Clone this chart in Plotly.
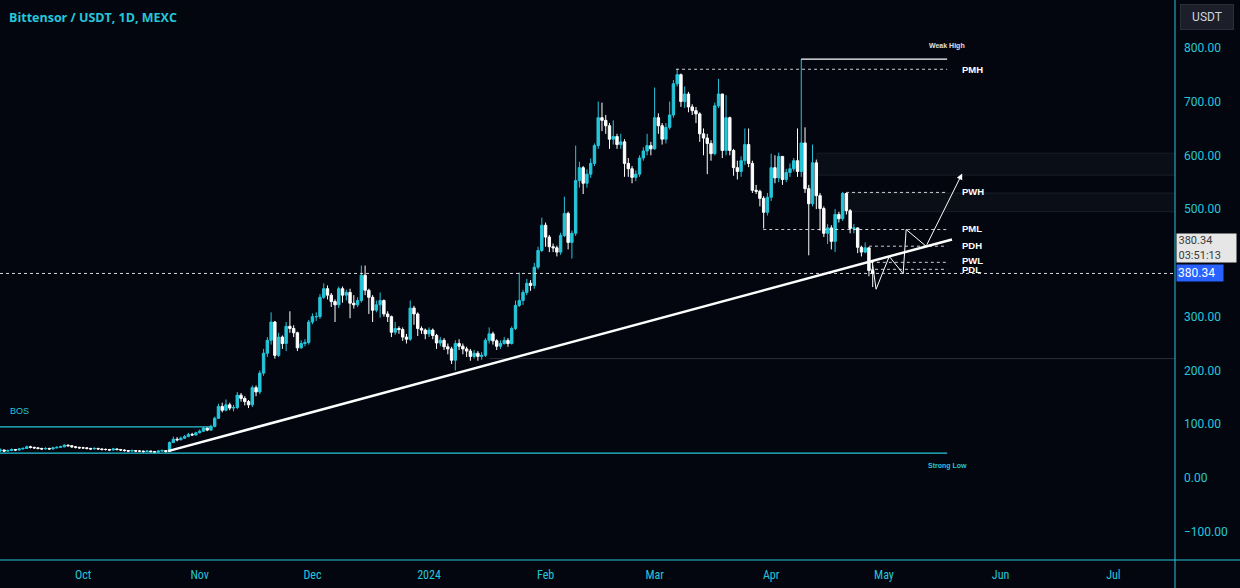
import pandas as pd
import numpy as np
import plotly.graph_objects as go

# ---------------- DATA ----------------
start_date = "2023-09-09"
closes = [
    52, 50, 51, 53, 52, 54, 55, 58, 57, 56,
    55, 54, 55, 54, 56, 57, 58, 61, 60, 58,
    57, 56, 56, 55, 54, 55, 54, 53, 53, 52,
    54, 53, 52, 51, 50, 51, 50, 50, 49, 50,
    49, 48, 50, 51, 49, 66, 72, 71, 74, 77,
    81, 80, 84, 87, 93, 89, 96, 111, 133, 126,
    136, 130, 131, 154, 148, 142, 136, 168, 160, 195,
    232, 256, 290, 228, 262, 250, 282, 278, 270, 242,
    250, 252, 290, 300, 300, 336, 352, 340, 328, 322,
    352, 340, 345, 325, 322, 330, 377, 349, 336, 312,
    322, 330, 305, 300, 271, 278, 276, 262, 258, 316,
    305, 278, 275, 268, 275, 265, 251, 256, 244, 240,
    219, 250, 245, 240, 236, 226, 232, 226, 228, 256,
    268, 255, 245, 250, 256, 250, 278, 321, 330, 345,
    362, 358, 392, 423, 470, 448, 430, 428, 420, 451,
    492, 438, 455, 553, 577, 548, 565, 585, 618, 670,
    665, 655, 630, 635, 620, 625, 585, 575, 559, 565,
    595, 608, 618, 612, 670, 655, 630, 652, 675, 733,
    750, 700, 714, 690, 683, 677, 640, 632, 622, 603,
    692, 714, 609, 670, 609, 577, 570, 590, 620, 585,
    535, 533, 520, 494, 522, 577, 558, 598, 555, 568,
    575, 590, 570, 623, 538, 510, 586, 525, 501, 455,
    465, 440, 490, 482, 529, 497, 464, 465, 429, 420,
    428, 386, 380.34,
]
highs = [
    55, 53, 53, 55, 54, 56, 57, 60, 60, 58,
    57, 56, 57, 56, 58, 59, 60, 63, 62, 61,
    59, 58, 58, 57, 56, 57, 56, 55, 55, 54,
    56, 55, 54, 53, 52, 53, 52, 52, 51, 52,
    51, 50, 52, 53, 52, 68, 77, 76, 77, 80,
    84, 84, 86, 90, 95, 94, 99, 114, 138, 140,
    146, 140, 136, 160, 158, 152, 145, 172, 172, 200,
    240, 262, 308, 292, 270, 265, 290, 310, 284, 272,
    256, 258, 294, 306, 308, 342, 362, 358, 344, 332,
    356, 356, 350, 352, 340, 336, 395, 395, 352, 340,
    330, 345, 332, 310, 302, 290, 282, 280, 268, 330,
    320, 308, 282, 278, 280, 278, 268, 262, 260, 250,
    244, 256, 258, 250, 244, 240, 238, 236, 234, 260,
    280, 272, 258, 256, 262, 260, 282, 330, 382, 350,
    370, 368, 400, 430, 484, 475, 452, 436, 432, 456,
    523, 495, 460, 618, 588, 580, 574, 594, 622, 700,
    698, 675, 660, 665, 640, 640, 630, 595, 580, 572,
    600, 615, 640, 625, 726, 678, 660, 660, 700, 740,
    761, 752, 728, 718, 695, 690, 680, 650, 640, 628,
    698, 742, 714, 712, 672, 612, 590, 598, 650, 650,
    590, 545, 536, 524, 530, 603, 600, 605, 580, 575,
    585, 595, 650, 779, 652, 545, 620, 592, 530, 505,
    472, 470, 500, 495, 532, 525, 500, 472, 466, 432,
    438, 428, 395,
]
lows = [
    48, 48, 49, 50, 50, 51, 53, 54, 55, 54,
    53, 52, 53, 52, 53, 55, 56, 57, 58, 56,
    55, 54, 54, 53, 52, 53, 52, 51, 51, 50,
    51, 51, 50, 49, 48, 49, 48, 48, 47, 48,
    47, 46, 47, 49, 47, 48, 65, 68, 70, 73,
    76, 78, 79, 83, 86, 87, 88, 94, 110, 122,
    124, 126, 124, 128, 142, 135, 130, 132, 152, 156,
    190, 225, 248, 222, 225, 240, 236, 270, 262, 236,
    240, 245, 248, 286, 292, 296, 333, 332, 318, 290,
    316, 326, 330, 297, 315, 318, 326, 340, 305, 290,
    308, 298, 300, 290, 262, 266, 268, 255, 250, 255,
    285, 264, 268, 258, 262, 258, 240, 245, 238, 230,
    212, 200, 238, 230, 225, 218, 222, 218, 220, 225,
    250, 248, 238, 240, 248, 244, 248, 275, 318, 322,
    340, 348, 352, 388, 420, 430, 420, 420, 412, 415,
    448, 425, 408, 450, 540, 528, 540, 558, 580, 612,
    645, 640, 612, 620, 612, 612, 560, 560, 548, 552,
    560, 590, 600, 600, 610, 640, 620, 622, 648, 670,
    728, 690, 688, 680, 675, 660, 625, 600, 565, 590,
    600, 688, 595, 600, 600, 562, 555, 560, 582, 578,
    530, 528, 505, 464, 488, 515, 548, 550, 545, 550,
    560, 570, 560, 560, 530, 414, 505, 500, 460, 448,
    435, 425, 420, 475, 478, 490, 455, 455, 418, 412,
    418, 375, 355,
]
first_open = 51
gap_opens = {45: 49}  # day index -> open where the candle gapped

month_ticks = ["2023-10-01", "2023-11-01", "2023-12-01", "2024-01-01", "2024-02-01",
               "2024-03-01", "2024-04-01", "2024-05-01", "2024-06-01", "2024-07-01"]
month_labels = ["Oct", "Nov", "Dec", "2024", "Feb", "Mar", "Apr", "May", "Jun", "Jul"]
# 400 is covered by the last-price labels in the reference
price_ticks = [800, 700, 600, 500, 300, 200, 100, 0, -100]

last_price = 380.34
countdown = "03:51:13"

# drawings (day index from start_date, price)
trend_idx = [44.6, 253.1]
trend_val = [50, 443.6]
proj_idx = [231.8, 232.9, 236.4, 240.1, 240.9, 246.2]
proj_val = [405, 351, 412, 380, 462, 431]
arrow_end = (255.8, 566)

level_names = ["PMH", "PWH", "PML", "PDH", "PWL", "PDL"]
level_vals = [760, 531, 462, 431, 401, 388]
level_starts = [179.7, 224.9, 202.9, 231.0, 231.5, 231.0]
level_label_vals = [759, 533, 463, 432, 404, 387]
levels_end = 251.8

weak_high = 779
weak_high_start = 213
strong_low = 46.4
bos_level = 95
bos_end = 56.3
zones = [(217.2, 563, 604), (225.2, 495, 530)]
gray_level = 222
gray_start = 130
x_range = [-0.1, 312.4]
y_range = [-152.5, 888.8]

# ---------------- BUILD ----------------
base = pd.Timestamp(start_date)
def day(d):
    return base + pd.Timedelta(days=float(d))

n = len(closes)
dates = [day(i) for i in range(n)]
opens = [first_open] + closes[:-1]
for k, v in gap_opens.items():
    opens[k] = v
highs_f = [max(h, o, c) for h, o, c in zip(highs, opens, closes)]
lows_f = [min(l, o, c) for l, o, c in zip(lows, opens, closes)]

BG = "#03060f"
CYAN = "#26c6da"
WHITE = "#ffffff"

fig = go.Figure()
fig.add_trace(go.Candlestick(
    x=dates, open=opens, high=highs_f, low=lows_f, close=closes,
    increasing=dict(line=dict(color=CYAN, width=1), fillcolor=CYAN),
    decreasing=dict(line=dict(color=WHITE, width=1), fillcolor=WHITE),
    whiskerwidth=0, showlegend=False, hoverinfo="skip",
))

fig.add_trace(go.Scatter(x=[day(d) for d in trend_idx], y=trend_val, mode="lines",
                         line=dict(color=WHITE, width=2.5), showlegend=False, hoverinfo="skip"))
fig.add_trace(go.Scatter(x=[day(d) for d in proj_idx], y=proj_val, mode="lines",
                         line=dict(color=WHITE, width=1), showlegend=False, hoverinfo="skip"))

shapes = []
for (s, lo, hi) in zones:
    shapes.append(dict(type="rect", xref="x", yref="y", x0=day(s), x1=day(x_range[1] + 5),
                       y0=lo, y1=hi, fillcolor="rgba(120,123,134,0.07)",
                       line=dict(color="rgba(120,123,134,0.18)", width=1), layer="below"))
shapes.append(dict(type="line", xref="x", yref="y", x0=day(gray_start), x1=day(x_range[1] + 5),
                   y0=gray_level, y1=gray_level, line=dict(color="rgba(120,123,134,0.35)", width=1),
                   layer="below"))
shapes.append(dict(type="line", xref="x", yref="y", x0=day(x_range[0]), x1=day(x_range[1] + 5),
                   y0=last_price, y1=last_price, line=dict(color="rgba(255,255,255,0.85)", width=1, dash="dot")))
shapes.append(dict(type="line", xref="x", yref="y", x0=day(x_range[0]), x1=day(bos_end),
                   y0=bos_level, y1=bos_level, line=dict(color=CYAN, width=1.2)))
shapes.append(dict(type="line", xref="x", yref="y", x0=day(x_range[0]), x1=day(levels_end),
                   y0=strong_low, y1=strong_low, line=dict(color=CYAN, width=1.2)))
shapes.append(dict(type="line", xref="x", yref="y", x0=day(weak_high_start), x1=day(levels_end),
                   y0=weak_high, y1=weak_high, line=dict(color=WHITE, width=1.2)))
for v, s in zip(level_vals, level_starts):
    shapes.append(dict(type="line", xref="x", yref="y", x0=day(s), x1=day(levels_end),
                       y0=v, y1=v, line=dict(color="rgba(255,255,255,0.8)", width=1, dash="dot")))
shapes.append(dict(type="line", xref="paper", yref="paper", x0=1.0, x1=1.0, y0=-0.06, y1=1.0,
                   line=dict(color=CYAN, width=1)))
shapes.append(dict(type="line", xref="paper", yref="paper", x0=0, x1=1240 / 1175, y0=0, y1=0,
                   line=dict(color=CYAN, width=1)))

annotations = []
annotations.append(dict(xref="paper", yref="paper", x=7 / 1175, y=1 - 17 / 560, xanchor="left",
                        yanchor="middle", text="Bittensor / USDT, 1D, MEXC", showarrow=False,
                        font=dict(family="Open Sans", size=12.5, color=CYAN, weight="bold")))
for name, v in zip(level_names, level_label_vals):
    annotations.append(dict(x=day(255.2), y=v, xanchor="left", yanchor="middle", text=name,
                            showarrow=False, font=dict(family="Liberation Sans", size=9.5,
                                                       color=WHITE, weight="bold")))
annotations.append(dict(x=day(251.8), y=803, text="Weak High", showarrow=False,
                        font=dict(family="Liberation Sans", size=7, color="#e0e0e0", weight="bold")))
annotations.append(dict(x=day(251.8), y=22, text="Strong Low", showarrow=False,
                        font=dict(family="Liberation Sans", size=7, color=CYAN, weight="bold")))
annotations.append(dict(x=day(5), y=124, text="BOS", showarrow=False,
                        font=dict(family="Liberation Sans", size=9, color=CYAN)))
annotations.append(dict(x=day(arrow_end[0]), y=arrow_end[1], ax=day(proj_idx[-1]), ay=proj_val[-1],
                        xref="x", yref="y", axref="x", ayref="y", showarrow=True,
                        arrowhead=2, arrowsize=1.2, arrowwidth=1, arrowcolor=WHITE, text=""))
annotations.append(dict(xref="paper", yref="paper", x=1207 / 1175, y=1 - 17 / 560, text="USDT",
                        xanchor="center", yanchor="middle",
                        showarrow=False, bgcolor="#1c1f29", bordercolor="#2a2e39", borderwidth=1,
                        borderpad=3, width=46, height=18,
                        font=dict(family="Roboto", size=12, color="#d1d4dc")))
annotations.append(dict(xref="paper", yref="y", x=1176 / 1175, y=428, xanchor="left", yanchor="middle",
                        text=f"{last_price:.2f}<br>{countdown}", showarrow=False, align="left",
                        bgcolor="#e6e6e6", width=56, height=25, borderpad=1.5,
                        font=dict(family="Roboto", size=11, color="#3a3a3a")))
annotations.append(dict(xref="paper", yref="y", x=1176 / 1175, y=last_price, xanchor="left",
                        yanchor="middle",
                        text=f"{last_price:.2f}", showarrow=False, align="left",
                        bgcolor="#2962ff", width=44, height=14, borderpad=1,
                        font=dict(family="Roboto", size=12, color=WHITE)))

fig.update_layout(
    width=1240, height=588,
    margin=dict(l=0, r=65, t=0, b=28),
    paper_bgcolor=BG, plot_bgcolor=BG,
    shapes=shapes, annotations=annotations,
    showlegend=False,
    boxgap=0.2, boxgroupgap=0.2,
    xaxis=dict(type="date", range=[day(x_range[0]), day(x_range[1])], rangeslider=dict(visible=False),
               showgrid=False, zeroline=False, tickvals=month_ticks, ticktext=month_labels,
               tickfont=dict(family="Liberation Sans Narrow, Roboto Condensed, Roboto", size=12, color=CYAN),
               ticks="", showline=False, ticklabelstandoff=6),
    yaxis=dict(side="right", range=y_range, showgrid=False, zeroline=False,
               tickvals=price_ticks, ticktext=[f"{v:.2f}".replace("-", "\u2212") for v in price_ticks],
               tickfont=dict(family="Roboto", size=12, color=CYAN), ticks="",
               ticklabelstandoff=8, showline=False),
)

fig.write_html("out.html", config={"displayModeBar": False},
               post_script="document.body.style.margin='0';document.body.style.background='#03060f';")
